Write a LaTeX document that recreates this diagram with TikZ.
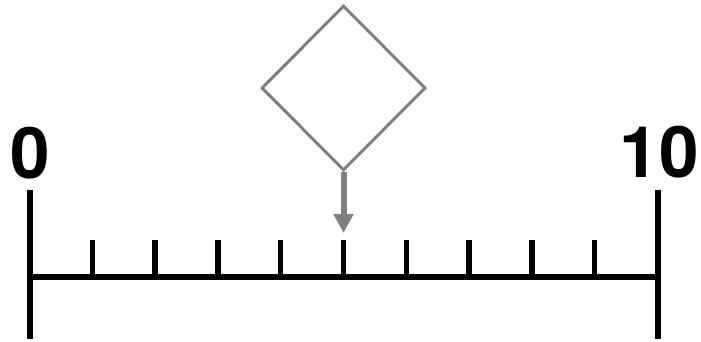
\documentclass[tikz,border=0pt]{standalone}
\usepackage{fontspec}
\setmainfont{TeX Gyre Heros}
\usepackage{tikz}
\usetikzlibrary{arrows.meta,positioning,shapes.geometric}

\definecolor{pointergray}{RGB}{128,128,128}

\begin{document}
\begin{tikzpicture}[
  x=1pt, y=-1pt,
  axis/.style={line width=6pt, black},
  tickmark/.style={line width=5.5pt, black},
  numlabel/.style={font=\fontsize{71}{71}\selectfont\bfseries, anchor=base, inner sep=0pt},
  marker/.style={shape=diamond, draw=pointergray, line width=3pt, minimum width=164pt, minimum height=165pt, inner sep=0pt},
  arr/.style={-{Triangle[width=19pt,length=19pt]}, line width=6pt, draw=pointergray}
]
\useasboundingbox (0,0) rectangle (701,341);
% number line
\coordinate (start) at (29.5,276.5);
\coordinate (end) at (657.5,276.5);
\draw[axis] (start) -- (end);
\draw[axis] (29.5,190) -- (29.5,339);
\draw[axis] (657.5,190) -- (657.5,339);
\foreach \i in {1,...,9}
  \draw[tickmark] (29.5+62.8*\i,279) -- (29.5+62.8*\i,240);
\node[numlabel] (zero) at (30,178) {0};
\node[numlabel] (ten) at (659,177) {10};
% pointer
\node[marker] (dia) at (343.5,88) {};
\coordinate (tip) at (343.5,233);
\draw[arr] (dia.south) -- (tip);
\end{tikzpicture}
\end{document}
